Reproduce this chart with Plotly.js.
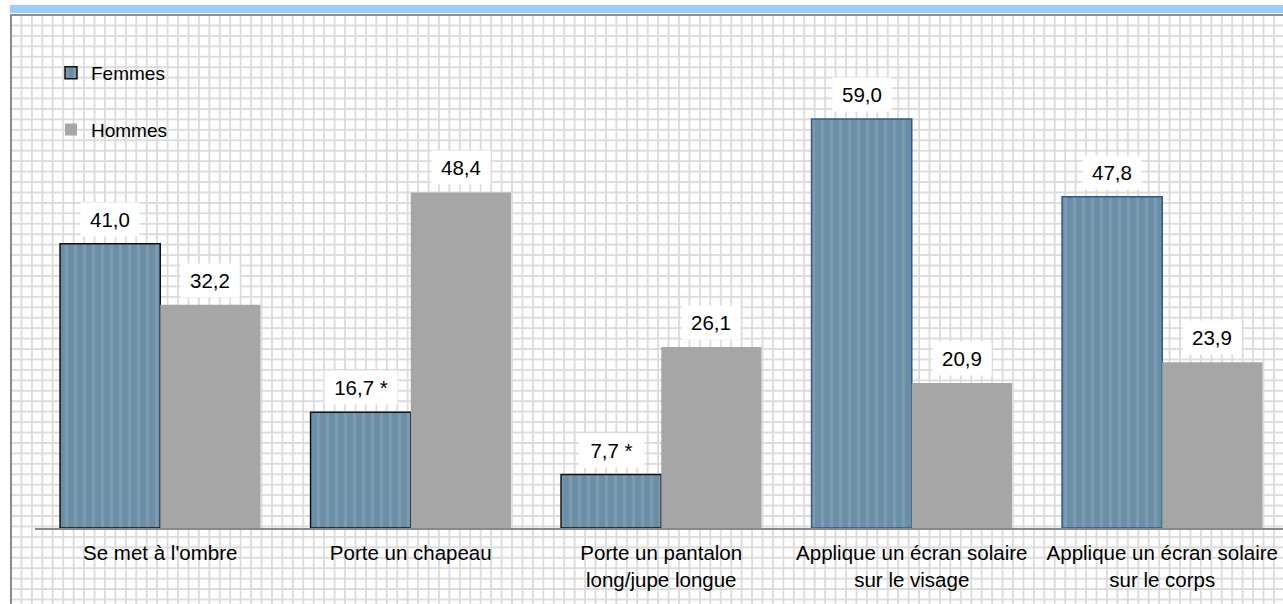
<!DOCTYPE html>
<html>
<head>
<meta charset="utf-8">
<script src="https://cdn.plot.ly/plotly-3.0.1.min.js"></script>
<style>
  html, body { margin:0; padding:0; background:#ffffff; }
  #wrap { position:relative; width:1283px; height:604px; overflow:hidden; }
  #band { position:absolute; left:10px; top:5px; width:1273px; height:8px; background:#99ccff; }
  #bg { position:absolute; left:10px; top:14px; width:1273px; height:590px;
        border-left:2px solid #8c8c8c; border-top:2px solid #8c8c8c; box-sizing:border-box;
        background-color:#ffffff;
        background-image:
          linear-gradient(to right, #dcdcdc 0px, #dcdcdc 1.5px, transparent 1.5px),
          linear-gradient(to bottom, #dcdcdc 0px, #dcdcdc 1.5px, transparent 1.5px);
        background-size: 10.45px 10.45px;
        background-position: 8.5px 8.5px; }
  #chart { position:absolute; left:0; top:0; width:1283px; height:604px; }
</style>
</head>
<body>
<div id="wrap">
  <div id="band"></div>
  <div id="bg"></div>
  <div id="chart"></div>
</div>
<script>
const categories = [
  "Se met à l'ombre",
  "Porte un chapeau",
  "Porte un pantalon<br>long/jupe longue",
  "Applique un écran solaire<br>sur le visage",
  "Applique un écran solaire<br>sur le corps"
];
const femmes = [41.0, 16.7, 7.7, 59.0, 47.8];
const hommes = [32.2, 48.4, 26.1, 20.9, 23.9];
const femmesLabels = ["41,0", "16,7 *", "7,7 *", "59,0", "47,8"];
const hommesLabels = ["32,2", "48,4", "26,1", "20,9", "23,9"];

const FONT = "Liberation Sans, Arial, sans-serif";

const traceF = {
  type: 'bar', name: 'Femmes', x: categories, y: femmes,
  legendgroup: 'f',
  marker: {
    color: '#6a8ea6',
    line: { color: ['#111111', '#111111', '#111111', '#2f5b8c', '#2f5b8c'], width: 1.5 },
    pattern: { shape: '|', fillmode: 'overlay', fgcolor: '#a7b8c6', fgopacity: 0.3, size: 9, solidity: 0.35 }
  },
  hoverinfo: 'skip'
};
const traceH = {
  type: 'bar', name: 'Hommes', x: categories, y: hommes,
  legendgroup: 'h',
  marker: { color: '#a6a6a6', line: { width: 0 } },
  hoverinfo: 'skip'
};

function boxWidth(t) { return 7 * t.length + 20; }

const annotations = [];
femmes.forEach((v, i) => annotations.push({
  x: i - 0.2, y: v, xref: 'x', yref: 'y', text: femmesLabels[i], showarrow: false,
  yanchor: 'bottom', yshift: 7, bgcolor: '#ffffff', borderpad: 5,
  width: boxWidth(femmesLabels[i]),
  font: { family: FONT, size: 20.5, color: '#000000' }
}));
hommes.forEach((v, i) => annotations.push({
  x: i + 0.2, y: v, xref: 'x', yref: 'y', text: hommesLabels[i], showarrow: false,
  yanchor: 'bottom', yshift: 7, bgcolor: '#ffffff', borderpad: 5,
  width: boxWidth(hommesLabels[i]),
  font: { family: FONT, size: 20.5, color: '#000000' }
}));

const layout = {
  width: 1283, height: 604,
  margin: { l: 35, r: 0, t: 15, b: 76, autoexpand: false },
  paper_bgcolor: 'rgba(0,0,0,0)',
  plot_bgcolor: 'rgba(0,0,0,0)',
  barmode: 'group', bargap: 0.2, bargroupgap: 0,
  font: { family: FONT, size: 20, color: '#000000' },
  xaxis: {
    type: 'category', range: [-0.5, 4.482],
    showline: true, linecolor: '#8a8a8a', linewidth: 1.5,
    showgrid: false, zeroline: false, ticks: '',
    tickangle: 0, automargin: false, ticklabelstandoff: 6,
    tickfont: { family: FONT, size: 20.5, color: '#000000' },
    fixedrange: true
  },
  yaxis: { range: [0, 74], visible: false, fixedrange: true, automargin: false },
  showlegend: true,
  legend: {
    xref: 'container', yref: 'container',
    x: 51 / 1283, y: 1 - 54 / 604, xanchor: 'left', yanchor: 'top',
    bgcolor: 'rgba(0,0,0,0)', tracegroupgap: 29,
    font: { family: FONT, size: 19, color: '#000000' },
    traceorder: 'grouped'
  },
  annotations: annotations
};

Plotly.newPlot('chart', [traceF, traceH], layout, { displayModeBar: false, staticPlot: true });
</script>
</body>
</html>
